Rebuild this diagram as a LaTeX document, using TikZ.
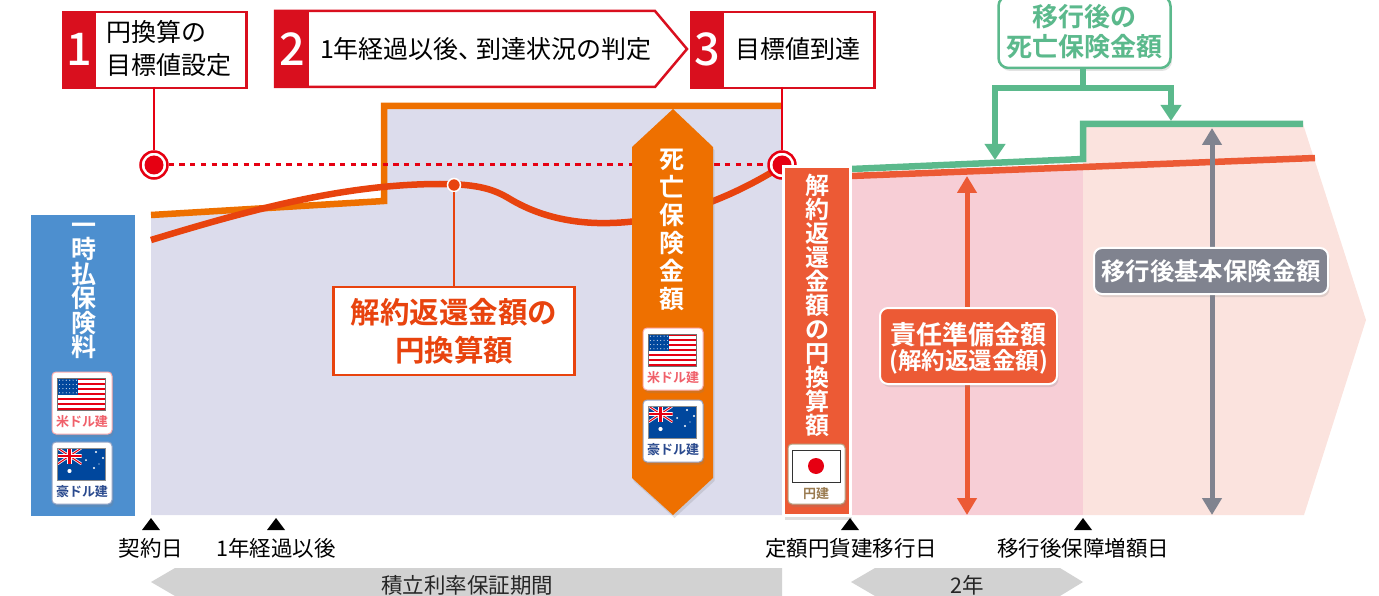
\documentclass[tikz,border=0pt]{standalone}
\usepackage{fontspec}
\setmainfont[BoldFont={Noto Sans CJK JP Medium}]{Noto Sans CJK JP}
\newfontfamily\heavy{Noto Sans CJK JP Bold}
\usetikzlibrary{shadows,arrows.meta,calc}
\definecolor{cred}{HTML}{E60012}
\definecolor{cboxred}{HTML}{D90F1E}
\definecolor{corange}{HTML}{EE7000}
\definecolor{ccurve}{HTML}{E8430E}
\definecolor{cvermil}{HTML}{EC5A35}
\definecolor{cgreen}{HTML}{5BB98C}
\definecolor{cgrey}{HTML}{80838F}
\definecolor{clav}{HTML}{DCDCEC}
\definecolor{cpink}{HTML}{F7CED6}
\definecolor{cpale}{HTML}{FBE3DE}
\definecolor{cblue}{HTML}{4D8FCF}
\definecolor{cbar}{HTML}{D2D2D2}
\definecolor{cusred}{HTML}{F0606A}
\definecolor{cnavy}{HTML}{2A4A8E}
\definecolor{cflagblue}{HTML}{00479D}
\definecolor{cbrown}{HTML}{9A7B50}
\newcommand\fsz[2]{\fontsize{#1}{#2}\selectfont}
\tikzset{
  x=1pt,y=-1pt,
  softshadow/.style={drop shadow={opacity=.22,shadow xshift=1.5pt,shadow yshift=-3pt}},
  topbox/.style={draw=cboxred,line width=2.5pt,fill=white,inner sep=0pt,anchor=north west},
  numbox/.style={fill=cboxred,text=white,inner sep=0pt,font=\bfseries\fsz{45}{45},anchor=center},
  toptext/.style={text=black,inner sep=0pt,align=left,font=\fsz{25}{33}},
  redlink/.style={draw=cred,line width=2.5pt},
  vtext/.style={text=white,inner sep=0pt,align=center,font=\heavy\fsz{#1}{24.5}},
  tickmark/.style={fill=black,draw=none},
  ticklabel/.style={inner sep=0pt,text=black,font=\fsz{21.5}{24}},
  barlabel/.style={inner sep=0pt,text=black!85,font=\fsz{21.5}{24}},
  badge/.style={draw=#1,line width=1pt,fill=white,rounded corners=4pt},
  badgelabel/.style={inner sep=0pt,font=\heavy\fsz{13}{14}},
  target/.style={circle,draw=cred,line width=2.5pt,fill=white,minimum size=27pt,inner sep=0pt},
  greenl/.style={draw=cgreen,line width=6.5pt},
  dbl/.style={line width=5pt,{Triangle[length=17pt,width=19pt]}-{Triangle[length=17pt,width=19pt]}},
  usb/.pic={
    \path[badge=pink!80!cusred,softshadow] (-30,-31) rectangle (30,31);
    \fill[white] (-24.5,-25) rectangle (23.5,7);
    \foreach \i in {0,2,...,12}{\fill[cred] (-24.5,-25+\i*2.46) rectangle (23.5,-25+\i*2.46+2.46);}
    \fill[cflagblue] (-24.5,-25) rectangle (-4,-7.8);
    \foreach \a in {0,...,5}\foreach \b in {0,1,2,3}{\fill[white!80!cflagblue] (-22.5+\a*3.4,-22.8+\b*4.2) circle (.6);}
    \draw[black!55,line width=.7pt] (-24.5,-25) rectangle (23.5,7);
    \node[badgelabel,text=cusred] (-lab) at (0,19) {米ドル建};
  },
  aub/.pic={
    \path[badge=cnavy!50,softshadow] (-30,-31) rectangle (30,31);
    \fill[cflagblue] (-24.5,-25) rectangle (23.5,7);
    \begin{scope}
      \clip (-24.5,-25) rectangle (-0.5,-9);
      \fill[cflagblue] (-24.5,-25) rectangle (-.5,-9);
      \draw[white,line width=2.6pt] (-24.5,-25) -- (-.5,-9) (-24.5,-9) -- (-.5,-25);
      \draw[cred,line width=1pt] (-24.5,-25) -- (-.5,-9) (-24.5,-9) -- (-.5,-25);
      \draw[white,line width=4.4pt] (-12.5,-25) -- (-12.5,-9) (-24.5,-17) -- (-.5,-17);
      \draw[cred,line width=2.6pt] (-12.5,-25) -- (-12.5,-9) (-24.5,-17) -- (-.5,-17);
    \end{scope}
    \fill[white] (-12.5,-2) circle (2.1) (4,-13) circle (1) (14,-21) circle (1.1) (21,-15) circle (1.2) (12,-5) circle (1.1) (17,-9) circle (.6);
    \draw[black!45,line width=.7pt] (-24.5,-25) rectangle (23.5,7);
    \node[badgelabel,text=cnavy] (-lab) at (0,19) {豪ドル建};
  },
}
\begin{document}
\begin{tikzpicture}
\useasboundingbox (0,0) rectangle (1379,596);
% background areas
\fill[cblue] (31,215) rectangle (135,516);
\fill[clav] (151,215) -- (384,201) -- (384,106) -- (782,106) -- (782,515) -- (151,515) -- cycle;
\fill[cpink] (851,176) -- (1083,167) -- (1083,515) -- (851,515) -- cycle;
\fill[cpale] (1083,124) -- (1303,124) -- (1366,320) -- (1304,515) -- (1083,515) -- cycle;
% lines
\draw[corange,line width=6.5pt,line join=miter] (151,215) -- (384,201) -- (384,106) -- (782,106);
\draw[ccurve,line width=6.5pt] (151,240) .. controls (240,213) and (340,184) .. (440,184) .. controls (480,184) and (495,190) .. (510,199) .. controls (540,217) and (575,224) .. (610,223) .. controls (660,222) and (720,205) .. (782,166);
\draw[greenl,line join=miter] (851,169) -- (1083,159) -- (1083,124) -- (1303,124);
\draw[cvermil,line width=6.5pt] (851,176) -- (1315,158);
% top boxes
\node[topbox,minimum width=183pt,minimum height=76pt] (b1) at (62,11) {};
\node[numbox,minimum width=34pt,minimum height=76pt] (n1) at (79,49) {1};
\node[toptext,anchor=west] (t1) at (106,49) {円換算の\\目標値設定};
\path[draw=cboxred,line width=2.5pt,fill=white] (275,11) -- (655,11) -- (687,49) -- (655,87) -- (275,87) -- cycle;
\node[numbox,minimum width=33pt,minimum height=76pt] (n2) at (292,49) {2};
\node[toptext] (t2) at (486,49) {1年経過以後、\kern-7pt到達状況の判定};
\node[topbox,minimum width=183pt,minimum height=76pt] (b3) at (690,11) {};
\node[numbox,minimum width=33pt,minimum height=76pt] (n3) at (707,49) {3};
\node[toptext] (t3) at (798,49) {目標値到達};
% targets
\node[target] (c1) at (154,165) {};
\node[target] (c2) at (782,165) {};
\draw[cred,line width=3pt,dash pattern=on 5.3pt off 5.4pt] (c1) -- (c2);
\draw[redlink] (154,87) -- (c1);
\draw[redlink] (782,87) -- (c2);
\node[circle,fill=cred,minimum size=19pt,inner sep=0pt] (c1i) at (c1) {};
\node[circle,fill=cred,minimum size=19pt,inner sep=0pt] (c2i) at (c2) {};
% curve label
\node[draw=ccurve,line width=2.5pt,fill=white,minimum width=241pt,minimum height=88pt,inner sep=0pt,align=center,text=ccurve,font=\heavy\fsz{29.5}{38}] (lab) at (454,331) {解約返還金額の\\円換算額};
\node[circle,draw=white,line width=1.5pt,fill=ccurve,minimum size=13pt,inner sep=0pt] (dot) at (454,185) {};
\draw[ccurve,line width=2pt] (dot) -- (lab);
% orange hexagon
\path[fill=corange,softshadow] (673,109) -- (713,147) -- (713,478) -- (673,515) -- (632,478) -- (632,147) -- cycle;
\node[text=white,inner sep=0pt,align=center,font=\heavy\fsz{25}{28}] (v2) at (672,230) {死\\亡\\保\\険\\金\\額};
\pic (u2) at (673,359) {usb};
\pic (a2) at (673,431) {aub};
% vermilion column
\path[draw=white,line width=3pt,fill=cvermil,drop shadow={opacity=.25,shadow xshift=2pt,shadow yshift=-5pt}] (783,167) rectangle (850,515);
\node[text=white,inner sep=0pt,align=center,font=\heavy\fsz{24}{24}] (v3) at (817,305) {解\\約\\返\\還\\金\\額\\の\\円\\換\\算\\額};
\path[badge=cbrown!70,softshadow] (788,444) rectangle (845,504);
\fill[white] (792,450) rectangle (840,482);
\fill[cred] (816,466) circle (8);
\draw[black!80,line width=.8pt] (792,450) rectangle (840,482);
\node[badgelabel,text=cbrown] (yen) at (816,494) {円建};
% blue column
\node[vtext=25] (v1) at (84,291) {一\\時\\払\\保\\険\\料};
\pic (u1) at (82,403) {usb};
\pic (a1) at (82,473) {aub};
% green call-out
\node[draw=cgreen,line width=2.5pt,fill=white,rounded corners=10pt,minimum width=172pt,minimum height=72pt,inner sep=0pt,align=center,text=cgreen,font=\heavy\fsz{26}{30},softshadow] (gbox) at (1084.5,32) {移行後の\\死亡保険金額};
\coordinate (gj) at (1083,88);
\coordinate (gl) at (995,160);
\coordinate (gr) at (1171,121);
\draw[greenl] (gbox.south -| gj) -- (gj);
\draw[greenl,line join=miter,-{Triangle[length=16pt,width=20pt]}] (gj) -| (gl);
\draw[greenl,line join=miter,-{Triangle[length=16pt,width=20pt]}] (gj) -| (gr);
% double arrows
\coordinate (ra) at (967,176);
\coordinate (rb) at (967,515);
\coordinate (ga) at (1212,128);
\coordinate (gb) at (1212,515);
\draw[dbl,cvermil] (ra) -- (rb);
\draw[dbl,cgrey] (ga) -- (gb);
\node[draw=white,line width=2pt,fill=cvermil,rounded corners=8pt,minimum width=177pt,minimum height=76pt,inner sep=0pt,softshadow] (rl) at (968.5,346) {};
\node[inner sep=0pt,align=center,text=white] (rlt) at (968.5,348.5) {{\heavy\fsz{26}{27}責任準備金額}\\[1pt]{\heavy\fsz{23.5}{26}(解約返還金額)}};
\node[draw=white,line width=2pt,fill=cgrey,rounded corners=8pt,minimum width=234pt,minimum height=46pt,inner sep=0pt,text=white,font=\heavy\fsz{24.4}{28},softshadow] (gl2) at (1211,271) {移行後基本保険金額};
% time axis
\foreach \n/\px in {m1/151,m2/276,m3/850,m4/1083}{\path[tickmark] (\px,518) -- (\px+9,530) -- (\px-9,530) -- cycle;}
\node[ticklabel] (l1) at (151,548) {契約日};
\node[ticklabel] (l2) at (276,548) {1年経過以後};
\node[ticklabel] (l3) at (851,548) {定額円貨建移行日};
\node[ticklabel] (l4) at (1083,548) {移行後保障増額日};
% bars
\fill[cbar] (151,582) -- (175,568) -- (782,568) -- (782,596) -- (175,596) -- cycle;
\fill[cbar] (851,582) -- (875,568) -- (1060,568) -- (1083,582) -- (1060,596) -- (875,596) -- cycle;
\node[barlabel] (p1) at (467,585) {積立利率保証期間};
\node[barlabel] (p2) at (967,585) {2年};
\end{tikzpicture}
\end{document}
